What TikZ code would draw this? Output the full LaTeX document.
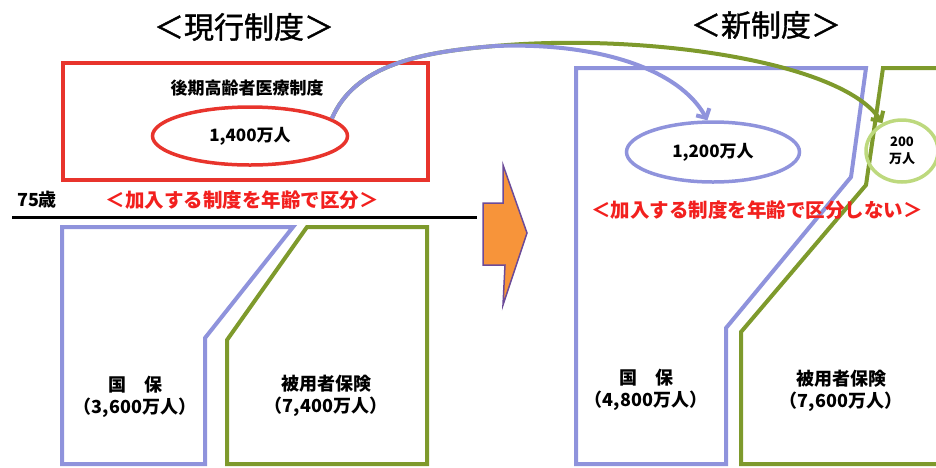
\documentclass[tikz,border=0pt]{standalone}
\usepackage{fontspec}
\setmainfont{Noto Sans CJK JP}
\newfontfamily\titlefont{Noto Sans CJK JP}[FakeBold=1.2]
\usetikzlibrary{shapes.geometric,arrows.meta}
\definecolor{kokuhoblue}{HTML}{8F93DC}
\definecolor{hihokengreen}{HTML}{7E9A2C}
\definecolor{lightgreen}{HTML}{BDD97E}
\definecolor{boxred}{HTML}{E8342C}
\definecolor{textred}{HTML}{F2201E}
\definecolor{arroworange}{HTML}{F7943A}
\definecolor{arrowedge}{HTML}{6C4B98}
\begin{document}
\begin{tikzpicture}[x=1pt,y=-1pt,
  titletext/.style={font=\titlefont\fontsize{30}{30}\selectfont},
  headtext/.style={font=\bfseries\fontsize{17}{20}\selectfont},
  numtext/.style={font=\bfseries\fontsize{17}{20}\selectfont},
  redtext/.style={text=textred,font=\bfseries\fontsize{19.5}{22}\selectfont},
  boxtext/.style={font=\bfseries\fontsize{18}{22}\selectfont,align=center},
  oval/.style={ellipse,inner sep=0pt,line width=3.5pt},
  kokuho/.style={draw=kokuhoblue,line width=4pt},
  hihoken/.style={draw=hihokengreen,line width=4pt},
  bluecurve/.style={draw=kokuhoblue,line width=4pt,-{Straight Barb[length=7pt,width=15pt]}},
  greencurve/.style={draw=hihokengreen,line width=4pt,-{Straight Barb[length=7pt,width=15pt]}}]
\useasboundingbox (0,0) rectangle (936,467);

% titles
\node[titletext] (oldtitle) at (244,27) {＜現行制度＞};
\node[titletext] (newtitle) at (766,25) {＜新制度＞};

% current system
\draw[boxred,line width=4.5pt] (63,63) rectangle (428,180);
\node[headtext] (koki) at (247,88) {後期高齢者医療制度};
\node[oval,draw=boxred,minimum width=195pt,minimum height=58pt,numtext] (e1400) at (250,136) {1,400万人};
\node[headtext,font=\bfseries\fontsize{18}{20}\selectfont] (age75) at (37,200) {75歳};
\node[redtext] (oldrule) at (242,200) {＜加入する制度を年齢で区分＞};
\draw[line width=3pt] (12,217) -- (477,217);

\draw[kokuho] (62,227) -- (293,227) -- (205,338) -- (205,464) -- (62,464) -- cycle;
\draw[hihoken] (307,227) -- (427,227) -- (427,464) -- (227,464) -- (227,340) -- cycle;
\node[boxtext] (kokuho1) at (135,397) {国　保\\（3,600万人）};
\node[boxtext] (hihoken1) at (326,396) {被用者保険\\（7,400万人）};

% arrow
\draw[fill=arroworange,draw=arrowedge,line width=1.5pt]
  (483,203) -- (503,203) -- (503,165) -- (527,233) -- (503,305) -- (505,265) -- (483,265) -- cycle;

% new system
\draw[kokuho] (576,68) -- (866,68) -- (851,177) -- (726,328) -- (726,464) -- (576,464) -- cycle;
\draw[hihoken] (940,68) -- (883,68) -- (866,185) -- (741,332) -- (741,464) -- (940,464);
\node[oval,draw=kokuhoblue,minimum width=173pt,minimum height=60pt,numtext] (e1200) at (713,152) {1,200万人};
\node[oval,draw=lightgreen,minimum width=72pt,minimum height=62pt,align=center,
  font=\bfseries\fontsize{13}{17}\selectfont] (e200) at (902,151) {200\\万人};
\node[redtext] (newrule) at (757,210) {＜加入する制度を年齢で区分しない＞};
\node[boxtext] (kokuho2) at (646,390) {国　保\\（4,800万人）};
\node[boxtext] (hihoken2) at (841,391) {被用者保険\\（7,600万人）};

% moves
\coordinate (split) at (495,46);
\draw[greencurve] (e1400.12) .. controls (355,65) and (420,52) .. (split)
  .. controls (640,33) and (840,60) .. (e200.125);
\draw[bluecurve] (e1400.12) .. controls (355,65) and (420,52) .. (split)
  .. controls (600,42) and (680,70) .. (e1200.100);

\end{tikzpicture}
\end{document}
